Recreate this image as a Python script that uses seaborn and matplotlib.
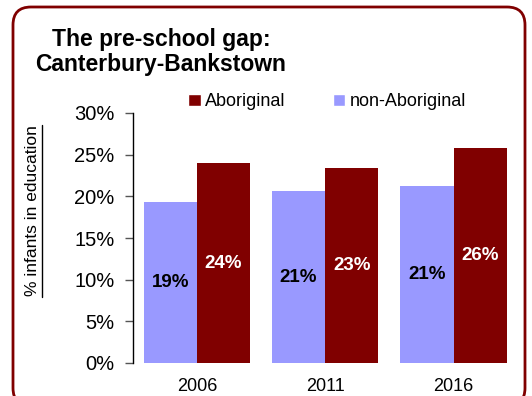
import matplotlib
matplotlib.use("Agg")
import matplotlib.pyplot as plt
import seaborn as sns
import pandas as pd
from matplotlib.patches import FancyBboxPatch, Patch
from matplotlib.lines import Line2D
from matplotlib.transforms import IdentityTransform
from matplotlib.ticker import PercentFormatter

years = ["2006", "2011", "2016"]
non_aboriginal = [0.193, 0.206, 0.213]
aboriginal = [0.240, 0.234, 0.258]
groups = ["non-Aboriginal", "Aboriginal"]
colors = {"non-Aboriginal": "#9999FF", "Aboriginal": "#800000"}
label_colors = {"non-Aboriginal": "black", "Aboriginal": "white"}
title = "The pre-school gap:\nCanterbury-Bankstown"
ylabel = "% infants in education"

df = pd.DataFrame({
    "year": years * 2,
    "value": non_aboriginal + aboriginal,
    "group": ["non-Aboriginal"] * 3 + ["Aboriginal"] * 3,
})

sns.set_style("white")
plt.rcParams["font.family"] = ["Liberation Sans", "DejaVu Sans"]
plt.rcParams["text.color"] = "black"
plt.rcParams["xtick.color"] = "black"
plt.rcParams["ytick.color"] = "black"

W, H = 532, 396
fig = plt.figure(figsize=(W / 100, H / 100), dpi=100)
ax = fig.add_axes([132.7 / W, 1 - 363 / H, (517.7 - 132.7) / W, (363 - 113) / H])

sns.barplot(data=df, x="year", y="value", hue="group", hue_order=groups,
            palette=colors, width=0.83, ax=ax, linewidth=0, saturation=1,
            legend=False)

for cont, g in zip(ax.containers, groups):
    vals = [b.get_height() for b in cont]
    ax.bar_label(cont, labels=[f"{v*100:.0f}%" for v in vals], label_type="center",
                 color=label_colors[g], fontsize=13.5, fontweight="bold")

ax.set_ylim(0, 0.30)
ax.set_yticks([0, 0.05, 0.10, 0.15, 0.20, 0.25, 0.30])
ax.yaxis.set_major_formatter(PercentFormatter(1.0, decimals=0))
ax.set_xlabel("")
ax.set_ylabel("")
for s in ["top", "right", "bottom"]:
    ax.spines[s].set_visible(False)
ax.spines["left"].set_color("black")
ax.spines["left"].set_linewidth(1)
ax.tick_params(axis="y", which="major", left=True, length=6, width=1,
               color="#555555", labelsize=14.5, pad=7, labelcolor="black")
ax.tick_params(axis="x", bottom=False, labelsize=13, pad=7, labelcolor="black")

# legend (Aboriginal listed first)
handles = [Patch(facecolor=colors["Aboriginal"]), Patch(facecolor=colors["non-Aboriginal"])]
fig.legend(handles, ["Aboriginal", "non-Aboriginal"], ncol=2, frameon=False,
           loc="upper left", bbox_to_anchor=(181 / W, 1 - 86 / H),
           fontsize=13, handlelength=0.7, handleheight=0.7, handletextpad=0.25,
           columnspacing=2.6, borderaxespad=0)

# title
fig.text(161 / W, 1 - 52 / H, title, ha="center", va="center", fontsize=16.5,
         fontweight="bold", linespacing=1.15, color="black")

# y label with underline
fig.text(33 / W, 1 - 211 / H, ylabel, rotation=90, ha="center", va="center",
         fontsize=12.5, color="black")
fig.add_artist(Line2D([41.7 / W, 41.7 / W], [1 - 297 / H, 1 - 125 / H],
                      transform=fig.transFigure, color="black", linewidth=1))

# rounded frame
frame = FancyBboxPatch((13, -10), 512, 389 + 10, boxstyle="round,pad=0,rounding_size=18",
                       transform=IdentityTransform(), facecolor="none",
                       edgecolor="#800000", linewidth=2, zorder=10)
fig.add_artist(frame)

fig.savefig("out.png", dpi=100)
